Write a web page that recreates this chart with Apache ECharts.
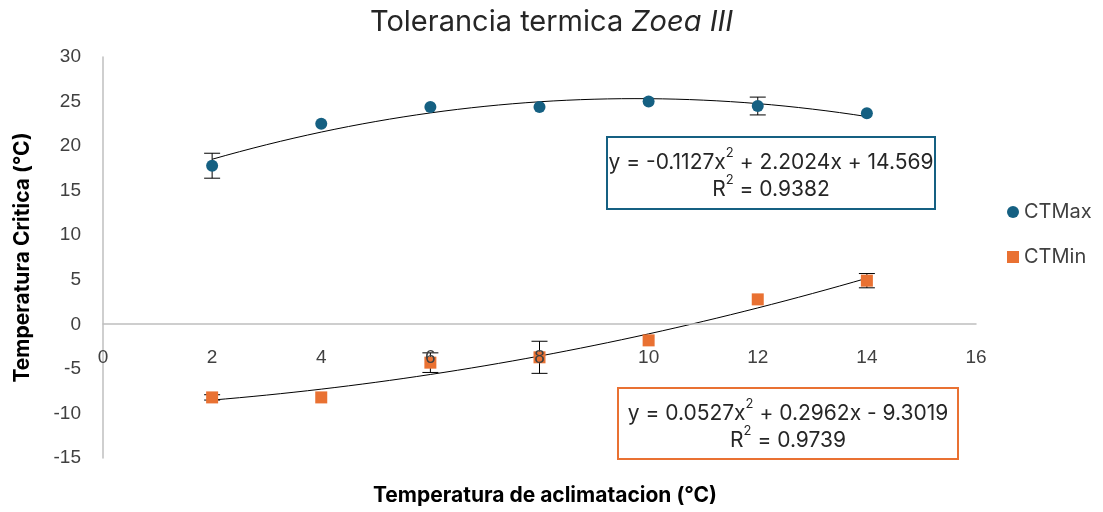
<!DOCTYPE html>
<html>
<head>
<meta charset="utf-8">
<script src="https://cdn.jsdelivr.net/npm/echarts@6/dist/echarts.min.js"></script>
<style>
  html, body { margin: 0; padding: 0; background: #fff; }
  #chart { width: 1103px; height: 512px; }
</style>
</head>
<body>
<div id="chart"></div>
<script>
// acclimation temperatures (x)
const acclim = [2, 4, 6, 8, 10, 12, 14];
// critical thermal maximum / minimum (mean, +- error; 0 = bar hidden by marker)
const ctmax = [17.8, 22.5, 24.4, 24.4, 25.0, 24.5, 23.7];
const ctmaxErr = [1.4, 0, 0, 0, 0, 1.0, 0];
const ctmin = [-8.2, -8.2, -4.3, -3.7, -1.8, 2.8, 4.9];
const ctminErr = [0.3, 0, 1.1, 1.8, 0, 0, 0.8];
// polynomial trendline coefficients as printed on the chart [a, b, c]
const ctmaxFit = [-0.1127, 2.2024, 14.569];
const ctminFit = [0.0527, 0.2962, -9.3019];
const fitRange = [2, 14];

const BLUE = '#156082';
const ORANGE = '#e97132';

const chart = echarts.init(document.getElementById('chart'));

function curve(c) {
  let pts = [];
  for (let x = fitRange[0]; x <= fitRange[1] + 1e-9; x += 0.25) {
    pts.push([x, c[0] * x * x + c[1] * x + c[2]]);
  }
  return pts;
}

function errData(means, errs) {
  return acclim.map((x, i) => [x, means[i] - errs[i], means[i] + errs[i], errs[i]]);
}

function errorBars(params, api) {
  if (!api.value(3)) return null;
  let lo = api.coord([api.value(0), api.value(1)]);
  let hi = api.coord([api.value(0), api.value(2)]);
  let w = 8;
  let style = { stroke: '#000', lineWidth: 1 };
  return {
    type: 'group',
    children: [
      { type: 'line', shape: { x1: lo[0], y1: lo[1], x2: hi[0], y2: hi[1] }, style: style },
      { type: 'line', shape: { x1: lo[0] - w, y1: lo[1], x2: lo[0] + w, y2: lo[1] }, style: style },
      { type: 'line', shape: { x1: hi[0] - w, y1: hi[1], x2: hi[0] + w, y2: hi[1] }, style: style }
    ]
  };
}

const eqFont = 'Inter, "Noto Sans", sans-serif';
const tickFont = '"Liberation Sans", Arial, sans-serif';

// trendline label box: rect + two centred text lines
function eqBox(x, y, w, h, color, line1, line2) {
  let rich = {
    t: { fontSize: 21, fontFamily: eqFont, fill: '#262626', lineHeight: 26, verticalAlign: 'bottom' },
    s: { fontSize: 13, fontFamily: eqFont, fill: '#262626', lineHeight: 26, verticalAlign: 'top' }
  };
  return {
    type: 'group',
    left: x, top: y,
    children: [
      { type: 'rect', shape: { x: 0, y: 0, width: w, height: h }, style: { fill: '#fff', stroke: color, lineWidth: 2 } },
      { type: 'text', x: w / 2, y: 10, style: { text: line1, rich: rich, align: 'center', verticalAlign: 'top' } },
      { type: 'text', x: w / 2, y: 37, style: { text: line2, rich: rich, align: 'center', verticalAlign: 'top' } }
    ]
  };
}

let option = {
  animation: false,
  title: [
    {
      text: '{n|Tolerancia termica }{i|Zoea III}',
      left: 'center',
      top: 3,
      textStyle: {
        rich: {
          n: { fontSize: 29, fontFamily: eqFont, color: '#262626', fontWeight: 'normal' },
          i: { fontSize: 29, fontFamily: eqFont, color: '#262626', fontWeight: 'normal', fontStyle: 'italic' }
        }
      }
    },
    {
      text: 'Temperatura de aclimatacion (°C)',
      left: 540,
      textAlign: 'center',
      top: 480,
      textStyle: { fontSize: 21, fontWeight: 'bold', fontFamily: eqFont, color: '#000' }
    }
  ],
  graphic: [
    eqBox(606, 136, 328, 72, BLUE,
      '{t|y = -0.1127x}{s|2}{t| + 2.2024x + 14.569}', '{t|R}{s|2}{t| = 0.9382}'),
    eqBox(617, 387, 340, 71, ORANGE,
      '{t|y = 0.0527x}{s|2}{t| + 0.2962x - 9.3019}', '{t|R}{s|2}{t| = 0.9739}')
  ],
  legend: {
    orient: 'vertical',
    left: 1002,
    top: 197,
    itemGap: 25,
    itemWidth: 12,
    itemHeight: 12,
    data: [
      { name: 'CTMax', icon: 'circle' },
      { name: 'CTMin', icon: 'rect' }
    ],
    textStyle: { fontSize: 20, fontFamily: eqFont, color: '#404040' }
  },
  grid: { left: 103, right: 127, top: 57, bottom: 54 },
  xAxis: {
    type: 'value',
    min: 0, max: 16, interval: 2,
    offset: -134,
    z: 10,
    axisLine: { onZero: false, lineStyle: { color: '#bfbfbf', width: 1.5 } },
    axisTick: { show: false },
    splitLine: { show: false },
    axisLabel: { fontSize: 19, color: '#404040', fontFamily: tickFont, margin: 24 }
  },
  yAxis: {
    type: 'value',
    min: -15, max: 30, interval: 5,
    name: 'Temperatura Critica (°C)',
    nameLocation: 'middle',
    nameGap: 70,
    nameTextStyle: { fontSize: 21, fontWeight: 'bold', fontFamily: eqFont, color: '#000' },
    axisLine: { show: true, onZero: false, lineStyle: { color: '#bfbfbf', width: 1.5 } },
    axisTick: { show: false },
    splitLine: { show: false },
    axisLabel: { fontSize: 19, color: '#404040', fontFamily: tickFont, margin: 22 }
  },
  series: [
    {
      name: 'trendMax', type: 'line', data: curve(ctmaxFit), showSymbol: false,
      lineStyle: { color: '#000', width: 1 }, silent: true, z: 2
    },
    {
      name: 'trendMin', type: 'line', data: curve(ctminFit), showSymbol: false,
      lineStyle: { color: '#000', width: 1 }, silent: true, z: 2
    },
    {
      name: 'errMax', type: 'custom', renderItem: errorBars,
      data: errData(ctmax, ctmaxErr), encode: { x: 0, y: [1, 2] }, z: 3, silent: true
    },
    {
      name: 'errMin', type: 'custom', renderItem: errorBars,
      data: errData(ctmin, ctminErr), encode: { x: 0, y: [1, 2] }, z: 3, silent: true
    },
    {
      name: 'CTMax', type: 'scatter', symbol: 'circle', symbolSize: 12,
      itemStyle: { color: BLUE, opacity: 1 },
      data: acclim.map((x, i) => [x, ctmax[i]]), z: 4
    },
    {
      name: 'CTMin', type: 'scatter', symbol: 'rect', symbolSize: 12,
      itemStyle: { color: ORANGE, opacity: 1 },
      data: acclim.map((x, i) => [x, ctmin[i]]), z: 4
    }
  ]
};

chart.setOption(option);
</script>
</body>
</html>
